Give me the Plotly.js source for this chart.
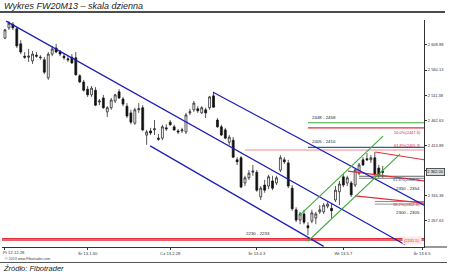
<!DOCTYPE html>
<html>
<head>
<meta charset="utf-8">
<script src="https://cdn.plot.ly/plotly-3.0.1.min.js"></script>
<style>
  html, body { margin: 0; padding: 0; background: #fff; }
  #chart { width: 450px; height: 275px; }
</style>
</head>
<body>
<div id="chart"></div>
<script>
// FW20M13 daily candles, one entry per trading session (Dec 28 2012 onwards)
const openP  = [2622,2642,2649,2640,2611,2587,2585,2578,2589,2584,2580,2545,2591,2603,2595,2587,2582,2585,2584,2549,
                2537,2523,2512,2521,2498,2506,2479,2487,2500,2518,2504,2490,2477,2457,2483,2487,2434,2442,2444,2428,
                2428,2448,2459,2450,2442,2442,2440,2477,2483,2485,2477,2483,2487,2510,2463,2450,2444,2420,2424,2386,
                2390,2341,2351,2362,2362,2314,2337,2335,2345,2341,2366,2386,2380,2331,2289,2269,2281,2258,2267,2273,
                2285,2285,2296,2292,2308,2324,2353,2341,2341,2337,2360,2386,2388,2386,2390,2370,2364];
const highP  = [2640,2655,2653,2644,2618,2595,2601,2597,2595,2589,2585,2595,2607,2611,2599,2593,2587,2591,2595,2552,
                2541,2529,2529,2527,2504,2512,2490,2506,2514,2523,2508,2496,2483,2487,2496,2492,2444,2448,2463,2436,
                2454,2455,2463,2454,2446,2448,2477,2485,2500,2490,2490,2487,2510,2518,2467,2454,2448,2434,2430,2391,
                2393,2355,2366,2376,2366,2335,2347,2357,2355,2355,2395,2391,2386,2337,2294,2285,2289,2265,2289,2285,
                2298,2302,2304,2302,2335,2345,2358,2355,2345,2370,2380,2391,2399,2395,2401,2376,2374];
const lowP   = [2620,2638,2638,2603,2591,2582,2576,2572,2584,2580,2552,2541,2587,2593,2587,2580,2576,2572,2549,2535,
                2518,2508,2508,2490,2492,2485,2469,2483,2496,2504,2490,2467,2455,2454,2477,2442,2415,2434,2434,2423,
                2424,2442,2452,2442,2436,2438,2436,2473,2479,2477,2475,2467,2483,2487,2448,2432,2426,2415,2390,2376,
                2331,2335,2347,2355,2324,2308,2322,2329,2327,2337,2362,2378,2331,2287,2265,2261,2261,2240,2263,2261,
                2281,2281,2292,2273,2304,2298,2333,2335,2314,2333,2356,2374,2384,2380,2355,2351,2351];
const closeP = [2638,2651,2642,2607,2595,2585,2587,2591,2587,2585,2556,2591,2601,2595,2591,2584,2580,2574,2551,2537,
                2521,2512,2525,2492,2500,2487,2487,2502,2512,2506,2494,2471,2459,2483,2485,2444,2440,2438,2446,2426,
                2450,2446,2454,2444,2440,2444,2473,2479,2496,2481,2487,2477,2508,2488,2450,2434,2428,2430,2391,2382,
                2333,2351,2360,2364,2327,2331,2327,2353,2331,2351,2390,2382,2335,2291,2269,2281,2265,2254,2283,2281,
                2289,2298,2300,2287,2327,2339,2337,2351,2318,2366,2376,2376,2386,2390,2357,2357,2362];

// x axis: session index and its dated labels
const tickIdx    = [0, 21, 42, 64, 86, 106];
const tickLabels = ['Pt 12.12.28', 'Śr 13.1.30', 'Cz 13.2.28', 'Śr 13.4.3', 'Wt 13.5.7', 'Śr 13.6.5'];

// y axis price grid
const priceTicks = [2267.63, 2316.38, 2365.13, 2413.88, 2462.63, 2511.38, 2560.13, 2608.88];

// trend lines: [start, end] as (session index, price)
const downMainIdx  = [0.3, 101.7],  downMainPx  = [2655, 2221];
const downUpperIdx = [52.9, 106.5], downUpperPx = [2517, 2298];
const downLowerIdx = [36.9, 81.0],  downLowerPx = [2413, 2218];
const upLowerIdx   = [77.0, 100.4], upLowerPx   = [2228, 2397];
const upUpperIdx   = [75.0, 96.1],  upUpperPx   = [2279, 2432];

// sloping retracement lines
const fanAIdx = [94.1, 106.5], fanAPx = [2401, 2386];
const fanBIdx = [87.2, 106.5], fanBPx = [2364, 2345];
const fanCIdx = [89.0, 106.5], fanCPx = [2316, 2302];

// support / resistance zones
const zoneLabels = ['2448 - 2458', '2405 - 2410', '2350 - 2354', '2300 - 2305', '2230 - 2233'];
const zoneHigh   = [2458, 2410, 2354, 2305, 2233];
const zoneLow    = [2448, 2405, 2350, 2300, 2230];
const zoneStart  = [77, 77, 90, 94, -0.8];
const fibLabels  = ['50.0%(2447.6)', '61.8%(2405.3)', '61.8%(2352.1)', '38.2%(2302.4)'];
const fibLevels  = [2447.6, 2405.3, 2352.1, 2302.4];

const X_END = 106.5;
const FONT = 'Liberation Sans, Arial, sans-serif';
const lastClose = closeP[closeP.length - 1];

const traces = [];

// bottom support band (filled)
traces.push({ x: [zoneStart[4], X_END], y: [zoneHigh[4], zoneHigh[4]], mode: 'lines',
  line: { color: '#e0303a', width: 1.3 }, hoverinfo: 'skip', showlegend: false });
traces.push({ x: [zoneStart[4], X_END], y: [zoneLow[4], zoneLow[4]], mode: 'lines', fill: 'tonexty',
  fillcolor: 'rgba(240,140,140,0.55)', line: { color: '#e0303a', width: 1.3 }, hoverinfo: 'skip', showlegend: false });

traces.push({
  type: 'candlestick',
  x: openP.map((_, i) => i),
  open: openP, high: highP, low: lowP, close: closeP,
  increasing: { line: { color: '#111', width: 0.7 }, fillcolor: '#ffffff' },
  decreasing: { line: { color: '#111', width: 0.7 }, fillcolor: '#111111' },
  whiskerwidth: 0,
  hoverinfo: 'skip', showlegend: false
});

function seg(xs, ys, color, width) {
  traces.push({ x: xs, y: ys, mode: 'lines', line: { color: color, width: width },
    hoverinfo: 'skip', showlegend: false });
}

// horizontal zone lines
seg([zoneStart[0], X_END], [zoneHigh[0], zoneHigh[0]], '#3cab3c', 1.1);
seg([zoneStart[0], X_END], [zoneLow[0], zoneLow[0]], '#e0303a', 1.1);
seg([zoneStart[1], X_END], [zoneHigh[1], zoneHigh[1]], '#2a5f9e', 1.1);
seg([61, X_END], [zoneLow[1], zoneLow[1]], '#f08a90', 1.1);
seg([zoneStart[2], X_END], [zoneHigh[2], zoneHigh[2]], '#555555', 0.9);
seg([zoneStart[2], X_END], [zoneLow[2], zoneLow[2]], '#777777', 0.9);
seg([zoneStart[3], X_END], [zoneHigh[3], zoneHigh[3]], '#6a7fa8', 0.9);
seg([zoneStart[3], X_END], [zoneLow[3], zoneLow[3]], '#8a8a8a', 0.9);

// sloping red lines
seg(fanAIdx, fanAPx, '#e0303a', 1.1);
seg(fanBIdx, fanBPx, '#e0303a', 1.1);
seg(fanCIdx, fanCPx, '#e0303a', 1.1);

// falling channel
seg(downMainIdx, downMainPx, '#1d1db8', 1.2);
seg(downUpperIdx, downUpperPx, '#1d1db8', 1.2);
seg(downLowerIdx, downLowerPx, '#1d1db8', 1.2);

// rising channel
seg(upLowerIdx, upLowerPx, '#3cab3c', 1.1);
seg(upUpperIdx, upUpperPx, '#3cab3c', 1.1);

// plot area: x 2..424 px, y 20..247 px
const PW = 422, PH = 227;
const px = v => (v - 2) / PW;
const py = v => (247 - v) / PH;

const annotations = [
  { xref: 'paper', yref: 'paper', x: px(2), y: py(6), xanchor: 'left', yanchor: 'middle', showarrow: false,
    text: '<i>Wykres FW20M13 – skala dzienna</i>', font: { family: FONT, size: 9, color: '#1a1a1a' } },
  // first date label, kept inside the left edge
  { xref: 'paper', yref: 'paper', x: px(1), y: py(252.5), xanchor: 'left', yanchor: 'middle', showarrow: false,
    text: tickLabels[0], font: { family: FONT, size: 4.2, color: '#333' } },
  { xref: 'paper', yref: 'paper', x: px(3), y: py(259), xanchor: 'left', yanchor: 'middle', showarrow: false,
    text: '© 2013 www.Fibotrader.com', font: { family: FONT, size: 3.6, color: '#444' } },
  { xref: 'paper', yref: 'paper', x: px(1), y: py(268), xanchor: 'left', yanchor: 'middle', showarrow: false,
    text: '<i>Źródło: Fibotrader</i>', font: { family: FONT, size: 7.5, color: '#1a1a1a' } },
  // current price tag
  { xref: 'paper', yref: 'y', x: px(426), y: lastClose, xanchor: 'left', yanchor: 'middle', showarrow: false,
    text: '2 ' + lastClose.toFixed(2).slice(1), font: { family: FONT, size: 4, color: '#111' },
    bgcolor: '#d9d9d9', bordercolor: '#333', borderwidth: 0.8, borderpad: 0.5 },
  // zone captions
  { x: 77.6, y: zoneHigh[0], xanchor: 'left', yanchor: 'bottom', yshift: 1, showarrow: false,
    text: zoneLabels[0], font: { family: FONT, size: 4.4, color: '#222' } },
  { x: 77.6, y: zoneHigh[1], xanchor: 'left', yanchor: 'bottom', yshift: 1, showarrow: false,
    text: zoneLabels[1], font: { family: FONT, size: 4.4, color: '#222' } },
  { x: X_END - 0.5, y: zoneLow[2], xanchor: 'right', yanchor: 'top', yshift: -5.8, showarrow: false,
    text: zoneLabels[2], font: { family: FONT, size: 4.4, color: '#222' } },
  { x: X_END - 0.5, y: zoneLow[3], xanchor: 'right', yanchor: 'top', yshift: -4.2, showarrow: false,
    text: zoneLabels[3], font: { family: FONT, size: 4.4, color: '#222' } },
  { x: 64.3, y: zoneHigh[4], xanchor: 'center', yanchor: 'bottom', yshift: 1, showarrow: false,
    text: zoneLabels[4], font: { family: FONT, size: 4.4, color: '#222' } },
  // retracement captions
  { x: X_END - 0.3, y: fibLevels[0], xanchor: 'right', yanchor: 'top', yshift: 0, showarrow: false,
    text: fibLabels[0], font: { family: FONT, size: 4, color: '#d02a32' } },
  { x: X_END - 0.3, y: fibLevels[1], xanchor: 'right', yanchor: 'bottom', yshift: 0, showarrow: false,
    text: fibLabels[1], font: { family: FONT, size: 4, color: '#d02a32' } },
  { x: X_END - 0.5, y: fibLevels[2], xanchor: 'right', yanchor: 'middle', yshift: -2.6, showarrow: false,
    text: fibLabels[2], font: { family: FONT, size: 4, color: '#2a4f8e' } },
  { x: X_END - 0.5, y: fibLevels[3], xanchor: 'right', yanchor: 'middle', yshift: -2, showarrow: false,
    text: fibLabels[3], font: { family: FONT, size: 4, color: '#d02a32' } },
  { x: X_END - 0.5, y: zoneLow[4], xanchor: 'right', yanchor: 'middle', showarrow: false,
    text: '(2231.5)', font: { family: FONT, size: 4, color: '#d02a32' }, bgcolor: '#ffe8e8' }
];

const shapes = [
  { type: 'line', xref: 'paper', yref: 'paper', x0: px(0), x1: px(445), y0: py(12), y1: py(12),
    line: { color: '#111', width: 1.6 } },
  { type: 'line', xref: 'paper', yref: 'paper', x0: px(424), x1: px(447), y0: 0, y1: 0,
    line: { color: '#333', width: 1 } },
  { type: 'line', xref: 'paper', yref: 'paper', x0: px(0), x1: px(447), y0: py(262.5), y1: py(262.5),
    line: { color: '#555', width: 1.2 } }
];

const layout = {
  width: 450, height: 275,
  margin: { l: 2, r: 26, t: 20, b: 28, pad: 0 },
  paper_bgcolor: '#ffffff', plot_bgcolor: '#ffffff',
  showlegend: false,
  font: { family: FONT, color: '#222' },
  xaxis: {
    range: [-0.76, X_END], showgrid: false, zeroline: false,
    showline: true, linecolor: '#333', linewidth: 1,
    ticks: 'outside', ticklen: 2, tickcolor: '#333',
    tickvals: tickIdx, ticktext: tickLabels.map((t, i) => (i === 0 ? '' : t)),
    tickfont: { family: FONT, size: 4.2, color: '#333' },
    rangeslider: { visible: false }, fixedrange: true
  },
  yaxis: {
    range: [2216.8, 2657.2], side: 'right', showgrid: false, zeroline: false,
    showline: true, linecolor: '#333', linewidth: 1,
    ticks: 'outside', ticklen: 2, tickcolor: '#333',
    tickvals: priceTicks,
    ticktext: priceTicks.map(v => '2 ' + v.toFixed(2).slice(1)),
    tickfont: { family: FONT, size: 4, color: '#333' }, fixedrange: true
  },
  annotations: annotations,
  shapes: shapes
};

Plotly.newPlot('chart', traces, layout, { staticPlot: true, displayModeBar: false });
</script>
</body>
</html>
